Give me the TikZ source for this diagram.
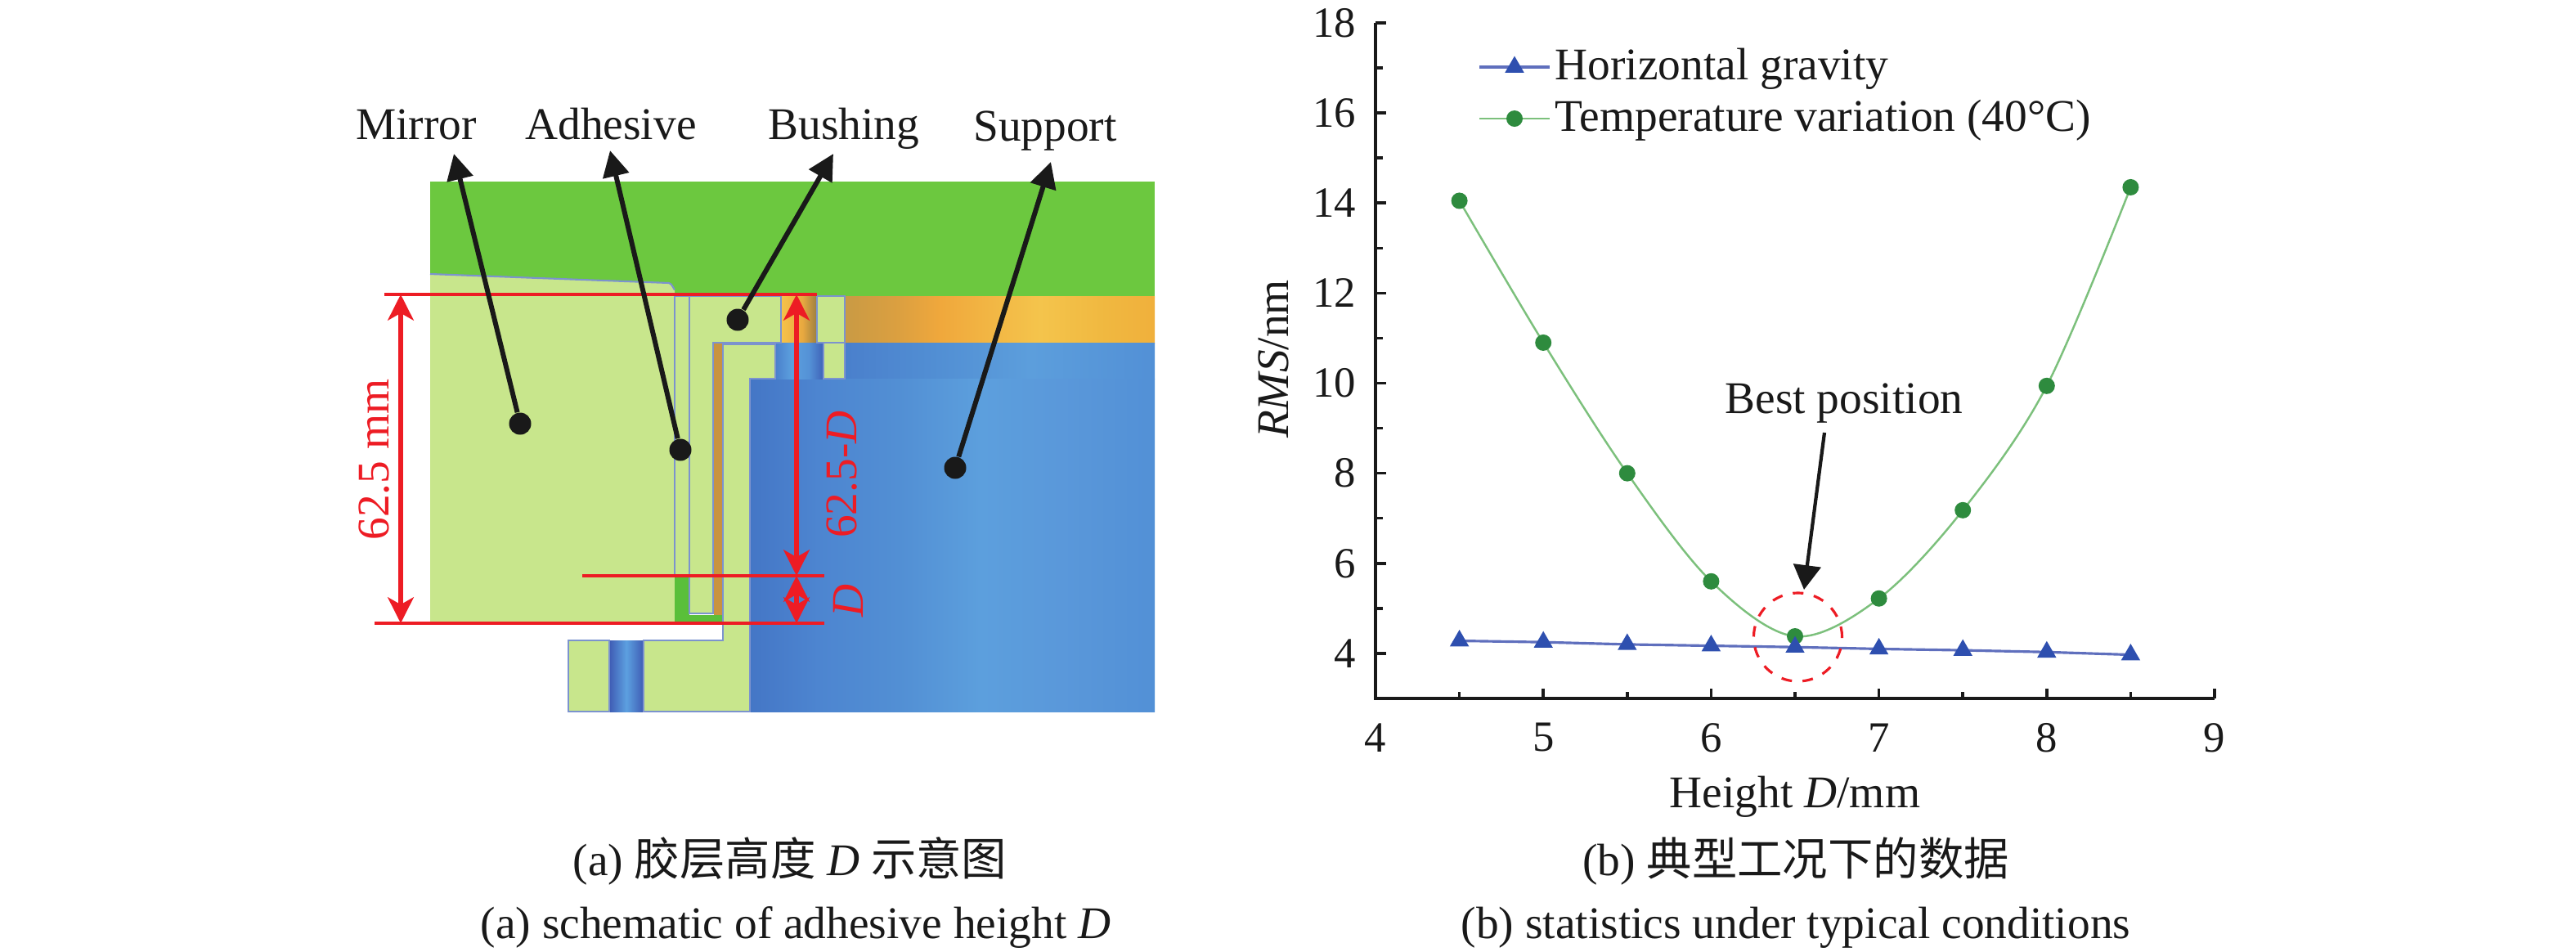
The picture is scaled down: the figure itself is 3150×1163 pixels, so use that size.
\documentclass[tikz,border=0pt]{standalone}
\usepackage{fontspec}
\setmainfont{Liberation Serif}
\newfontfamily\cjk{Noto Sans CJK SC}
\usetikzlibrary{arrows.meta,shapes.geometric}
\definecolor{covergreen}{HTML}{6CC83F}
\definecolor{partgreen}{HTML}{C8E68C}
\definecolor{gluegreen}{HTML}{5ABF3A}
\definecolor{edgeblue}{HTML}{7C93CE}
\definecolor{slotbrown}{HTML}{C9933E}
\definecolor{dimred}{HTML}{ED1C24}
\definecolor{curvegreen}{HTML}{7CC07C}
\definecolor{dotgreen}{HTML}{2E8B3E}
\definecolor{linegreyblue}{HTML}{5F6FBD}
\definecolor{triblue}{HTML}{2E4FAF}
\pgfdeclarehorizontalshading{supportshade}{100bp}{rgb(0bp)=(.267,.463,.776); rgb(25bp)=(.267,.463,.776); rgb(33.5bp)=(.302,.522,.816); rgb(43.5bp)=(.322,.561,.831); rgb(53.5bp)=(.361,.624,.867); rgb(63.5bp)=(.353,.596,.855); rgb(75bp)=(.322,.565,.839); rgb(100bp)=(.322,.565,.839)}
\pgfdeclarehorizontalshading{bandshade}{100bp}{rgb(0bp)=(.29,.5,.8); rgb(25bp)=(.29,.5,.8); rgb(40bp)=(.32,.56,.83); rgb(55bp)=(.361,.62,.863); rgb(75bp)=(.322,.565,.839); rgb(100bp)=(.322,.565,.839)}
\pgfdeclarehorizontalshading{ringshade}{100bp}{rgb(0bp)=(.788,.604,.267); rgb(25bp)=(.788,.604,.267); rgb(34bp)=(.863,.627,.251); rgb(40.5bp)=(.941,.659,.235); rgb(56.5bp)=(.957,.769,.298); rgb(67bp)=(.941,.722,.251); rgb(75bp)=(.941,.69,.235); rgb(100bp)=(.941,.69,.235)}
\pgfdeclarehorizontalshading{gapshade}{100bp}{rgb(0bp)=(.961,.765,.29); rgb(25bp)=(.961,.765,.29); rgb(55bp)=(.91,.66,.25); rgb(75bp)=(.61,.5,.25); rgb(100bp)=(.61,.5,.25)}
\pgfdeclarehorizontalshading{holeshade}{100bp}{rgb(0bp)=(.29,.5,.8); rgb(25bp)=(.29,.5,.8); rgb(42bp)=(.361,.627,.871); rgb(60bp)=(.33,.57,.84); rgb(75bp)=(.243,.384,.722); rgb(100bp)=(.243,.384,.722)}
\pgfdeclarehorizontalshading{boreshade}{100bp}{rgb(0bp)=(.247,.361,.706); rgb(25bp)=(.247,.361,.706); rgb(50bp)=(.361,.627,.878); rgb(75bp)=(.247,.361,.706); rgb(100bp)=(.247,.361,.706)}
\tikzset{
  txt/.style={inner sep=0pt,font=\fontsize{15.75}{18}\selectfont,text=black!90},
  dimtxt/.style={txt,text=dimred,rotate=90},
  part/.style={fill=partgreen,draw=edgeblue,line width=.6pt},
  pin/.style={circle,fill=black!90,inner sep=0pt,minimum size=.27cm},
  pointer/.style={draw=black!90,line width=1.7pt,-{Stealth[length=9pt,width=9pt,inset=0pt]}},
  dimline/.style={draw=dimred,line width=.9pt},
  dimarrow/.style={draw=dimred,line width=1.5pt,{Stealth[length=9pt,width=9pt,inset=2.5pt]}-{Stealth[length=9pt,width=9pt,inset=2.5pt]}},
  axisline/.style={draw=black!90,line width=1pt},
  tridot/.style={regular polygon,regular polygon sides=3,fill=triblue,inner sep=0pt,minimum size=.27cm},
  rounddot/.style={circle,fill=dotgreen,inner sep=0pt,minimum size=.2cm},
}
\begin{document}
\begin{tikzpicture}[x=.01cm,y=-.01cm]
    \useasboundingbox (0,0) rectangle (3150,1163);
    % blocks behind the section
    \fill[covergreen] (526,222) rectangle (1412,362);
    \shade[shading=ringshade] (1033,362) rectangle (1412,419);
    \shade[shading=gapshade] (955,362) rectangle (999,419);
    \shade[shading=bandshade] (1033,419) rectangle (1412,463);
    \shade[shading=supportshade] (917,463) rectangle (1412,870);
    \shade[shading=holeshade] (948,419) rectangle (1007,463);
    \shade[shading=boreshade] (745,783) rectangle (787,870);
    % section parts
    \fill[partgreen] (526,335) -- (818,346) to[out=0,in=-90] (825,353) -- (825,760) -- (526,760) -- cycle;
    \draw[edgeblue,line width=.6pt] (526,335) -- (818,346) to[out=0,in=-90] (825,353);
    \draw[part] (825,362) rectangle (843,704);
    \fill[gluegreen] (825,704) rectangle (843,760);
    \fill[gluegreen] (825,752) rectangle (884,760);
    \fill[slotbrown] (873,420) rectangle (884,752);
    \draw[part] (843,362) -- (955,362) -- (955,419) -- (872,419) -- (872,750) -- (843,750) -- cycle;
    \draw[part] (884,421) -- (948,421) -- (948,463) -- (917,463) -- (917,870) -- (787,870) -- (787,783) -- (884,783) -- cycle;
    \draw[part] (695,783) rectangle (745,870);
    \draw[part] (999,362) rectangle (1033,419);
    \draw[part] (1007,419) rectangle (1033,463);
    % dimensions
    \coordinate (topl) at (470,360);
    \coordinate (topr) at (999,360);
    \coordinate (midl) at (712,704);
    \coordinate (midr) at (1008,704);
    \coordinate (botl) at (458,762);
    \coordinate (botr) at (1008,762);
    \coordinate (lefttop) at (490,360);
    \coordinate (leftbot) at (490,762);
    \coordinate (righttop) at (974,360);
    \coordinate (rightmid) at (974,704);
    \coordinate (rightbot) at (974,762);
    \draw[dimline] (topl) -- (topr);
    \draw[dimline] (midl) -- (midr);
    \draw[dimline] (botl) -- (botr);
    \draw[dimarrow] (lefttop) -- (leftbot);
    \draw[dimarrow] (righttop) -- (rightmid);
    \draw[dimarrow] (rightmid) -- (rightbot);
    \node[dimtxt] (dimfull) at (458,562) {62.5 mm};
    \node[dimtxt] (dimrest) at (1030,580) {62.5-\textit{D}};
    \node[dimtxt] (dimd) at (1037,734) {\textit{D}};
    % part labels
    \node[txt,anchor=base] (mirror) at (509,170) {Mirror};
    \node[txt,anchor=base] (adhesive) at (747,170) {Adhesive};
    \node[txt,anchor=base] (bushing) at (1032,170) {Bushing};
    \node[txt,anchor=base] (support) at (1278,172) {Support};
    \foreach \name/\px/\py/\tx/\ty in {mirror/636/518/555/188,adhesive/832/550/746/184,bushing/902/391/1019/188,support/1168/572/1285/198}{
        \node[pin] (\name pin) at (\px,\py) {};
        \coordinate (\name tip) at (\tx,\ty);
        \draw[pointer] (\name pin) -- (\name tip);
    }
    % chart
    \begin{scope}[shift={(861.2,1019.2)},xscale=205.2,yscale=-55.07]
        \foreach \y in {4,6,...,18}{
            \draw[axisline] (4,\y) -- ++(.0634,0);
            \node[txt,anchor=east,font=\fontsize{15}{18}\selectfont] (ylab\y) at (3.888,\y) {\y};
        }
        \foreach \y in {5,7,...,17}
            \draw[axisline] (4,\y) -- ++(.044,0);
        \foreach \x in {4,...,9}{
            \draw[axisline] (\x,3) -- ++(0,.218);
            \node[txt,font=\fontsize{15}{18}\selectfont] (xlab\x) at (\x,2.13) {\x};
        }
        \foreach \x in {4.5,5.5,6.5,7.5,8.5}
            \draw[axisline] (\x,3) -- ++(0,.145);
        \draw[axisline] (4,18) -- (4,3) -- (9,3);
        \draw[curvegreen,line width=.7pt] plot[smooth,tension=.55] coordinates {(4.5,14.05) (5,10.9) (5.5,8) (6,5.6) (6.5,4.38) (7,5.22) (7.5,7.18) (8,9.94) (8.5,14.35)};
        \draw[linegreyblue,line width=.9pt] plot coordinates {(4.5,4.28) (5,4.25) (5.5,4.2) (6,4.17) (6.5,4.14) (7,4.1) (7.5,4.07) (8,4.03) (8.5,3.97)};
        \foreach \x/\y [count=\i] in {4.5/14.05,5/10.9,5.5/8,6/5.6,6.5/4.38,7/5.22,7.5/7.18,8/9.94,8.5/14.35}
            \node[rounddot] (tv\i) at (\x,\y) {};
        \foreach \x/\y [count=\i] in {4.5/4.28,5/4.25,5.5/4.2,6/4.17,6.5/4.14,7/4.1,7.5/4.07,8/4.03,8.5/3.97}
            \node[tridot] (hg\i) at (\x,\y) {};
    \end{scope}
    \draw[dimred,line width=.9pt,dash pattern=on 3.7pt off 3.7pt] (2198.5,779) circle (.54cm);
    % legend
    \coordinate (hgl) at (1809,82);
    \coordinate (hgr) at (1895,82);
    \coordinate (tvl) at (1809,145);
    \coordinate (tvr) at (1895,145);
    \draw[linegreyblue,line width=1.2pt] (hgl) -- (hgr);
    \draw[curvegreen,line width=.7pt] (tvl) -- (tvr);
    \node[tridot] (hgkey) at (1852,82) {};
    \node[rounddot] (tvkey) at (1852,145) {};
    \node[txt,anchor=base west] (hglab) at (1901,97) {Horizontal gravity};
    \node[txt,anchor=base west] (tvlab) at (1901,160) {Temperature variation (40°C)};
    % axis titles and the note
    \node[txt,anchor=base] (xtitle) at (2195,987) {Height \textit{D}/mm};
    \node[txt,rotate=90] (ytitle) at (1557,439) {\textit{RMS}/nm};
    \node[txt,anchor=base] (best) at (2255,505) {Best position};
    \coordinate (besttail) at (2231,529);
    \coordinate (besttip) at (2206,721);
    \draw[draw=black!90,line width=1.2pt,-{Stealth[length=8.5pt,width=9.5pt,inset=0pt]}] (besttail) -- (besttip);
    % captions
    \node[txt,anchor=base] (capazh) at (966,1070) {(a) {\cjk 胶层高度} \textit{D} {\cjk 示意图}};
    \node[txt,anchor=base] (capaen) at (973,1147) {(a) schematic of adhesive height \textit{D}};
    \node[txt,anchor=base] (capbzh) at (2196,1070) {(b) {\cjk 典型工况下的数据}};
    \node[txt,anchor=base] (capben) at (2196,1147) {(b) statistics under typical conditions};
\end{tikzpicture}
\end{document}
